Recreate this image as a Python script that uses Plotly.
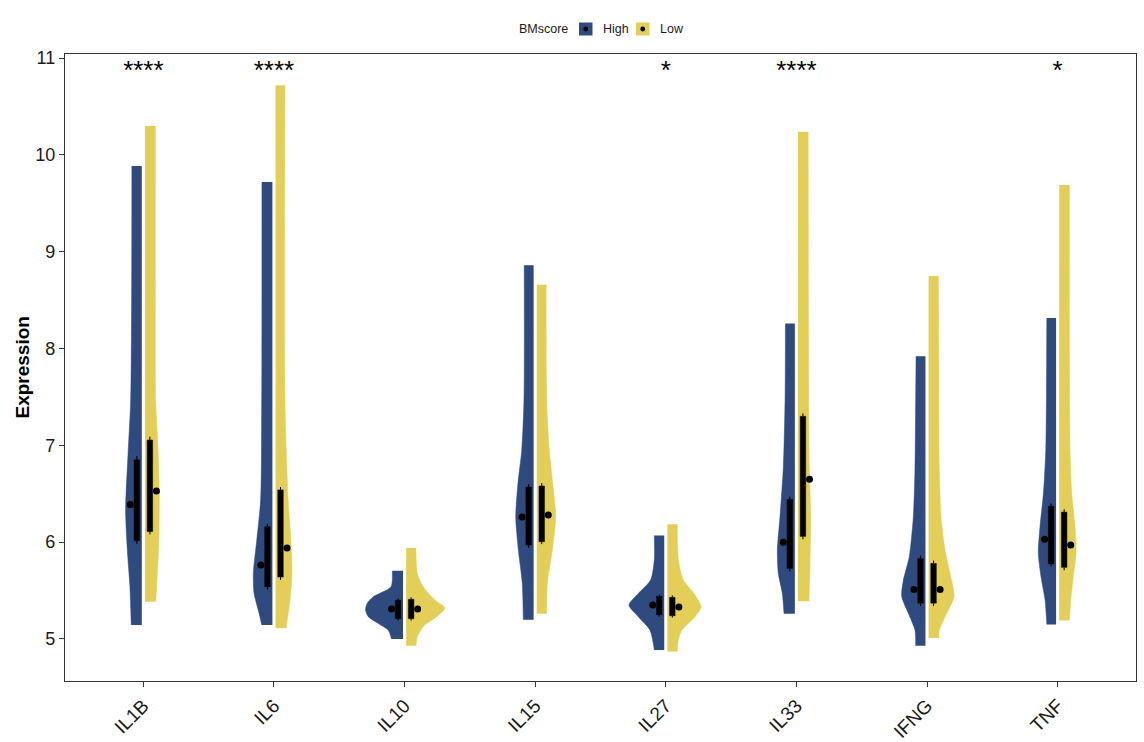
import plotly.graph_objects as go

genes = ["IL1B", "IL6", "IL10", "IL15", "IL27", "IL33", "IFNG", "TNF"]
blue = "#2F4A7E"
yellow = "#E3CE58"

# Half-violin outlines: expression levels (top to bottom) and the half-width
# of the density at each level, in category units
high_y = {
    "IL1B": [9.886, 8.5, 7.47, 6.95, 6.33, 5.92, 5.54, 5.145],
    "IL6":  [9.72, 7.47, 6.44, 6.02, 5.68, 5.475, 5.27, 5.145],
    "IL10": [5.705, 5.54, 5.437, 5.37, 5.30, 5.23, 5.16, 5.09, 5.0],
    "IL15": [8.86, 7.47, 6.95, 6.61, 6.26, 5.92, 5.575, 5.20],
    "IL27": [6.07, 5.82, 5.61, 5.47, 5.35, 5.23, 5.09, 4.886],
    "IL33": [8.26, 7.47, 6.78, 6.26, 5.92, 5.68, 5.47, 5.26],
    "IFNG": [7.92, 7.47, 6.78, 6.26, 5.85, 5.61, 5.44, 5.265, 5.09, 4.93],
    "TNF":  [8.315, 6.95, 6.505, 6.16, 5.885, 5.64, 5.40, 5.15],
}
high_w = {
    "IL1B": [0.088, 0.090, 0.097, 0.116, 0.136, 0.123, 0.103, 0.093],
    "IL6":  [0.092, 0.094, 0.102, 0.132, 0.158, 0.153, 0.115, 0.094],
    "IL10": [0.094, 0.104, 0.240, 0.286, 0.299, 0.278, 0.201, 0.125, 0.100],
    "IL15": [0.084, 0.086, 0.103, 0.132, 0.149, 0.129, 0.099, 0.091],
    "IL27": [0.088, 0.088, 0.116, 0.211, 0.282, 0.211, 0.121, 0.088],
    "IL33": [0.084, 0.087, 0.100, 0.126, 0.146, 0.139, 0.108, 0.095],
    "IFNG": [0.084, 0.087, 0.092, 0.105, 0.136, 0.181, 0.194, 0.143, 0.092, 0.087],
    "TNF":  [0.083, 0.091, 0.109, 0.135, 0.148, 0.127, 0.096, 0.083],
}
low_y = {
    "IL1B": [10.30, 8.5, 7.47, 7.06, 6.54, 6.02, 5.54, 5.385],
    "IL6":  [10.72, 7.47, 6.44, 6.02, 5.68, 5.40, 5.11],
    "IL10": [5.94, 5.68, 5.54, 5.40, 5.32, 5.23, 5.13, 5.02, 4.93],
    "IL15": [8.66, 7.47, 6.95, 6.61, 6.26, 5.92, 5.575, 5.26],
    "IL27": [6.185, 5.82, 5.61, 5.47, 5.33, 5.23, 5.09, 4.99, 4.87],
    "IL33": [10.24, 7.47, 6.78, 6.26, 5.75, 5.39],
    "IFNG": [8.75, 7.47, 6.78, 6.26, 5.92, 5.68, 5.44, 5.265, 5.09, 5.01],
    "TNF":  [9.69, 6.95, 6.505, 6.16, 5.885, 5.64, 5.40, 5.19],
}
low_w = {
    "IL1B": [0.092, 0.092, 0.094, 0.109, 0.122, 0.119, 0.102, 0.094],
    "IL6":  [0.084, 0.084, 0.109, 0.130, 0.138, 0.123, 0.092],
    "IL10": [0.087, 0.097, 0.143, 0.233, 0.309, 0.245, 0.143, 0.097, 0.087],
    "IL15": [0.084, 0.088, 0.108, 0.134, 0.157, 0.131, 0.093, 0.088],
    "IL27": [0.088, 0.096, 0.134, 0.216, 0.270, 0.224, 0.122, 0.096, 0.088],
    "IL33": [0.090, 0.094, 0.099, 0.109, 0.104, 0.096],
    "IFNG": [0.087, 0.090, 0.094, 0.107, 0.138, 0.176, 0.207, 0.151, 0.094, 0.090],
    "TNF":  [0.090, 0.095, 0.108, 0.133, 0.141, 0.120, 0.100, 0.090],
}

# Box summaries per group
high_q1 = [6.015, 5.54, 5.21, 5.97, 5.25, 5.73, 5.37, 5.775]
high_q3 = [6.85, 6.16, 5.40, 6.57, 5.44, 6.44, 5.83, 6.37]
high_lo = [5.98, 5.51, 5.19, 5.94, 5.23, 5.70, 5.34, 5.75]
high_hi = [6.89, 6.19, 5.42, 6.60, 5.46, 6.47, 5.86, 6.40]
high_mid = [6.39, 5.765, 5.31, 6.26, 5.35, 6.00, 5.51, 6.03]
low_q1 = [6.11, 5.64, 5.21, 6.005, 5.24, 6.06, 5.37, 5.74]
low_q3 = [7.055, 6.54, 5.41, 6.58, 5.43, 7.30, 5.78, 6.31]
low_lo = [6.08, 5.61, 5.19, 5.98, 5.22, 6.03, 5.34, 5.71]
low_hi = [7.09, 6.57, 5.43, 6.61, 5.45, 7.33, 5.81, 6.34]
low_mid = [6.53, 5.94, 5.31, 6.28, 5.33, 6.65, 5.51, 5.97]

signif = ["****", "****", "", "", "*", "****", "", "*"]
signif_y = 10.85

GAP = 0.012      # space between the two halves
BOX_OFF = 0.05   # box centre offset from category
BOX_W = 0.042
DOT_OFF = 0.10

fig = go.Figure()


def add_half(pos, ys, ws, side, color):
    inner = pos + side * GAP
    # straight inner edge, then a smoothed outer edge filled across to it
    fig.add_trace(go.Scatter(x=[inner, inner], y=[ys[0], ys[-1]], mode="lines",
                             line=dict(color=color, width=0),
                             hoverinfo="skip", showlegend=False))
    fig.add_trace(go.Scatter(x=[pos + side * w for w in ws], y=ys, mode="lines",
                             fill="tonextx", fillcolor=color,
                             line=dict(color=color, width=0.5, shape="spline", smoothing=0.7),
                             hoverinfo="skip", showlegend=False))


def add_box(pos, q1, q3, lo, hi):
    x0, x1 = pos - BOX_W / 2, pos + BOX_W / 2
    fig.add_trace(go.Scatter(x=[x0, x1, x1, x0, x0], y=[q1, q1, q3, q3, q1],
                             mode="lines", fill="toself", fillcolor="black",
                             line=dict(color="black", width=0.5),
                             hoverinfo="skip", showlegend=False))
    fig.add_trace(go.Scatter(x=[pos, pos, None, pos, pos], y=[lo, q1, None, q3, hi],
                             mode="lines", line=dict(color="black", width=1),
                             hoverinfo="skip", showlegend=False))


for i, g in enumerate(genes):
    p = i + 1
    add_half(p, high_y[g], high_w[g], -1, blue)
    add_half(p, low_y[g], low_w[g], 1, yellow)

for i, g in enumerate(genes):
    p = i + 1
    add_box(p - BOX_OFF, high_q1[i], high_q3[i], high_lo[i], high_hi[i])
    add_box(p + BOX_OFF, low_q1[i], low_q3[i], low_lo[i], low_hi[i])

pos = list(range(1, len(genes) + 1))
fig.add_trace(go.Scatter(x=[p - DOT_OFF for p in pos], y=high_mid, mode="markers",
                         marker=dict(color="black", size=7), showlegend=False,
                         hoverinfo="skip"))
fig.add_trace(go.Scatter(x=[p + DOT_OFF for p in pos], y=low_mid, mode="markers",
                         marker=dict(color="black", size=7), showlegend=False,
                         hoverinfo="skip"))
fig.add_trace(go.Scatter(x=pos, y=[signif_y] * len(pos), mode="text", text=signif,
                         textfont=dict(family="Liberation Sans, Arial", size=26, color="black"),
                         showlegend=False, hoverinfo="skip"))

W, H = 1144, 742
L, R, T, B = 65, 8, 54, 61
pw, ph = W - L - R, H - T - B


def px(x):
    return (x - L) / pw


def py(y):
    return (H - B - y) / ph


shapes = []
annotations = []
# legend keys
for x0, col in [(579, blue), (636, yellow)]:
    shapes.append(dict(type="rect", xref="paper", yref="paper",
                       x0=px(x0), x1=px(x0 + 13.5), y0=py(35.5), y1=py(22.5),
                       fillcolor=col, line=dict(width=0)))
    shapes.append(dict(type="circle", xref="paper", yref="paper",
                       x0=px(x0 + 4.3), x1=px(x0 + 9.2), y0=py(31.5), y1=py(26.6),
                       fillcolor="black", line=dict(width=0)))
legend_font = dict(family="Liberation Sans, Arial", size=12.5, color="#1a1a1a")
annotations.append(dict(text="BMscore", xref="paper", yref="paper", x=px(570), y=py(29),
                        xanchor="right", yanchor="middle", showarrow=False, font=legend_font))
annotations.append(dict(text="High", xref="paper", yref="paper", x=px(601), y=py(29),
                        xanchor="left", yanchor="middle", showarrow=False, font=legend_font))
annotations.append(dict(text="Low", xref="paper", yref="paper", x=px(658), y=py(29),
                        xanchor="left", yanchor="middle", showarrow=False, font=legend_font))
annotations.append(dict(text="<b>Expression</b>", xref="paper", yref="paper", x=px(22), y=0.5,
                        xanchor="center", yanchor="middle", textangle=-90, showarrow=False,
                        font=dict(family="Liberation Sans, Arial", size=19, color="black")))

fig.update_layout(
    width=W, height=H,
    margin=dict(l=L, r=R, t=T, b=B),
    plot_bgcolor="white", paper_bgcolor="white",
    showlegend=False,
    shapes=shapes, annotations=annotations,
    font=dict(family="Liberation Sans, Arial", color="#1a1a1a"),
)
fig.update_xaxes(range=[0.4, 8.6], tickvals=pos, ticktext=genes, tickangle=-45,
                 tickfont=dict(size=19, color="#1a1a1a"),
                 showline=True, linecolor="#333333", linewidth=1.3, mirror=True,
                 ticks="outside", ticklen=5, tickcolor="#333333", tickwidth=1.2,
                 showgrid=False, zeroline=False, automargin=False)
fig.update_yaxes(range=[4.566, 11.043], tickvals=[5, 6, 7, 8, 9, 10, 11],
                 tickfont=dict(size=18, color="#1a1a1a"),
                 showline=True, linecolor="#333333", linewidth=1.3, mirror=True,
                 ticks="outside", ticklen=5, tickcolor="#333333", tickwidth=1.2,
                 showgrid=False, zeroline=False, automargin=False)

fig.write_html("out.html")
